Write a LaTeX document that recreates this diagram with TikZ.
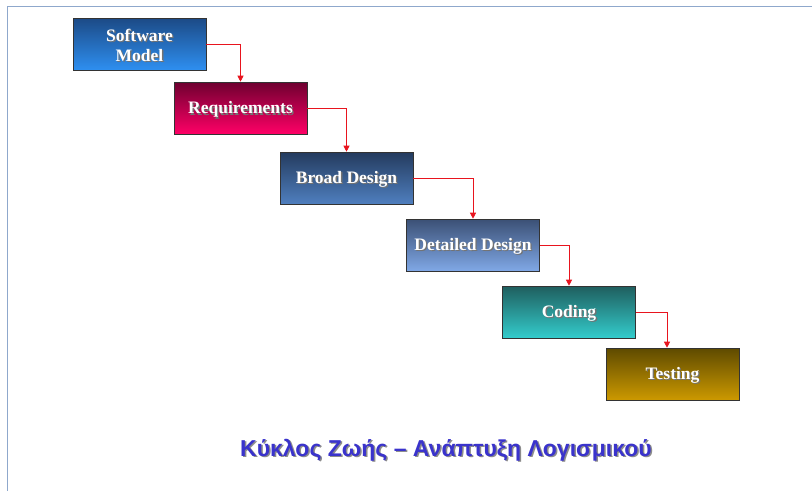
\documentclass[tikz,border=0pt]{standalone}
\usepackage{fontspec}
\setmainfont{Liberation Serif}
\newfontfamily\titlefont{Liberation Sans}
\usetikzlibrary{arrows.meta}
\definecolor{framecol}{HTML}{8FA8CC}
\definecolor{aT}{HTML}{1C4A86}\definecolor{aB}{HTML}{2E8FF0}
\definecolor{bT}{HTML}{6E0030}\definecolor{bB}{HTML}{FF0066}
\definecolor{cT}{HTML}{243B5E}\definecolor{cB}{HTML}{4F7FBF}
\definecolor{dT}{HTML}{3B5075}\definecolor{dB}{HTML}{80A8E6}
\definecolor{eT}{HTML}{1F5E5E}\definecolor{eB}{HTML}{33CCCC}
\definecolor{fT}{HTML}{5E4A00}\definecolor{fB}{HTML}{CC9900}
\definecolor{titlecol}{HTML}{3A33CC}
\definecolor{arrcol}{HTML}{E8141E}
\begin{document}
\begin{tikzpicture}[x=1pt,y=-1pt,
  stagebox/.style={minimum width=133pt,minimum height=52pt,draw=black!80,line width=0.6pt,inner sep=0pt},
  lbl/.style={font=\fontsize{17.5}{20}\selectfont\bfseries,text=white,align=center,inner sep=0pt},
  lblshadow/.style={lbl,text=black!55},
  arr/.style={draw=arrcol,line width=0.8pt,-{Triangle[length=6pt,width=6pt]}}]
\useasboundingbox (0,0) rectangle (812,491);
\fill[white] (0,0) rectangle (812,491);
\draw[framecol,line width=1pt] (812,6) -- (7,6) -- (7,491);
\node[stagebox,top color=aT,bottom color=aB] (b1) at (139.5,44) {};
\node[stagebox,top color=bT,bottom color=bB] (b2) at (240.5,108) {};
\node[stagebox,top color=cT,bottom color=cB] (b3) at (346.5,178) {};
\node[stagebox,top color=dT,bottom color=dB] (b4) at (473,245) {};
\node[stagebox,top color=eT,bottom color=eB] (b5) at (569,312) {};
\node[stagebox,top color=fT,bottom color=fB] (b6) at (672.5,374) {};
\foreach \n/\t in {b1/{Software\\Model},b2/Requirements,b3/Broad Design,b4/Detailed Design,b5/Coding,b6/Testing}{
  \node[lblshadow] (s\n) at ([shift={(1.3pt,-2.8pt)}]\n.center) {\t};
  \node[lbl] (t\n) at ([shift={(0pt,-1.5pt)}]\n.center) {\t};
}
\coordinate (b6in) at ([xshift=-5.5pt]b6.north);
\draw[arr] (b1.east) -| (b2.north);
\draw[arr] (b2.east) -| (b3.north);
\draw[arr] (b3.east) -| (b4.north);
\draw[arr] (b4.east) -| (b5.north);
\draw[arr] (b5.east) -| (b6in);
\node[font=\titlefont\fontsize{23}{26}\selectfont\bfseries,text=black!45] (titleshadow) at (447.5,451.5) {Κύκλος Ζωής – Ανάπτυξη Λογισμικού};
\node[font=\titlefont\fontsize{23}{26}\selectfont\bfseries,text=titlecol] (title) at (446,450) {Κύκλος Ζωής – Ανάπτυξη Λογισμικού};
\end{tikzpicture}
\end{document}
